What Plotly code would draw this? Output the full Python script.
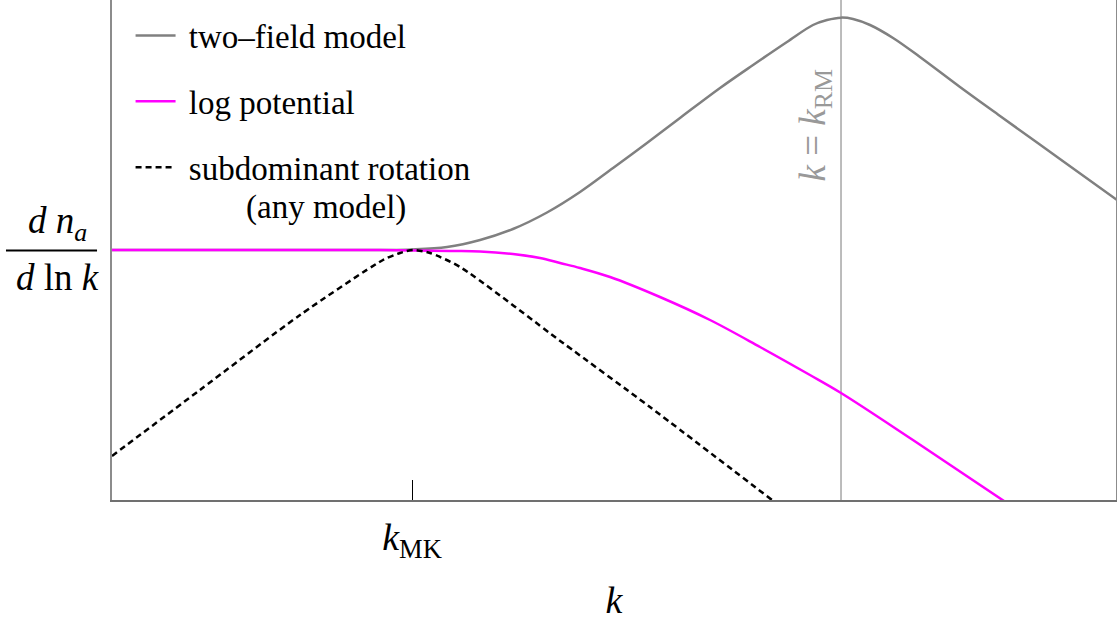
import plotly.graph_objects as go

# x: log-scale wavenumber units (k_MK at 0, k_RM at 3); y: log dn/dlnk (plateau at 0)
K_MK = 0.0
K_RM = 3.0

two_field_x = [-2.098, -0.224, 0.0, 0.245, 0.476, 0.706, 0.944, 1.175, 1.406, 1.643, 1.874,
               2.154, 2.385, 2.622, 2.804, 2.902, 3.0, 3.084, 3.203, 3.364, 3.552, 3.832,
               4.112, 4.531, 4.930]
two_field_y = [0.0, 0.0, 0.004, 0.024, 0.08, 0.168, 0.30, 0.464, 0.656, 0.856, 1.056,
               1.296, 1.48, 1.664, 1.80, 1.84, 1.859, 1.848, 1.80, 1.696, 1.544, 1.304,
               1.072, 0.728, 0.40]

log_x = [-2.098, -0.224, 0.266, 0.476, 0.706, 0.895, 1.035, 1.175, 1.385, 1.734, 2.084, 2.434,
         2.783, 3.0, 3.503, 4.140]
log_y = [0.0, 0.0, -0.008, -0.012, -0.032, -0.064, -0.104, -0.144, -0.216, -0.376, -0.56, -0.776,
         -1.0, -1.144, -1.52, -2.008]

sub_x = [-2.098, -1.483, -0.783, -0.203, -0.084, 0.007, 0.126, 0.336, 1.056, 1.664, 2.517]
sub_y = [-1.648, -1.12, -0.52, -0.08, -0.024, 0.0, -0.024, -0.136, -0.744, -1.256, -2.0]

X_RANGE = [-2.098, 4.923]
Y_RANGE = [-2.0, 2.0]

legend_names = ["two\u2013field model", "log potential", "subdominant rotation"]

SERIF = "Liberation Serif, Times New Roman, serif"

fig = go.Figure()
fig.add_trace(go.Scatter(x=two_field_x, y=two_field_y, mode="lines", name="\u00a0" + legend_names[0],
                         legendgroup="a", line=dict(color="#808080", width=2.5, shape="spline", smoothing=1.0)))
fig.add_trace(go.Scatter(x=log_x, y=log_y, mode="lines", name="\u00a0" + legend_names[1],
                         legendgroup="b", line=dict(color="#ff00ff", width=2.5, shape="spline", smoothing=1.0)))
fig.add_trace(go.Scatter(x=sub_x, y=sub_y, mode="lines", name="\u00a0" + legend_names[2],
                         legendgroup="c", line=dict(color="black", width=2.5, dash="6px,4px",
                                                    shape="spline", smoothing=0.7)))

fig.add_shape(type="line", xref="x", yref="paper", x0=K_RM, x1=K_RM, y0=0, y1=1,
              line=dict(color="#a6a6a6", width=1.5), layer="below")

fig.add_annotation(x=K_RM, xref="x", y=0.75, yref="paper", xanchor="right", yanchor="middle",
                   xshift=-1, textangle=-90, showarrow=False,
                   text="<i>k</i> = <i>k</i><sub>RM</sub>",
                   font=dict(family=SERIF, size=37, color="#999999"))

# y-axis label as a fraction
fig.add_annotation(x=-0.0538, xref="paper", y=0.552, yref="paper", showarrow=False,
                   xanchor="center", yanchor="middle",
                   text="<i>d n<sub>a</sub></i>", font=dict(family=SERIF, size=37, color="black"))
fig.add_annotation(x=-0.0538, xref="paper", y=0.445, yref="paper", showarrow=False,
                   xanchor="center", yanchor="middle",
                   text="<i>d</i> ln <i>k</i>", font=dict(family=SERIF, size=37, color="black"))
fig.add_shape(type="line", xref="paper", yref="paper", x0=-0.1056, x1=-0.0149, y0=0.499, y1=0.499,
              line=dict(color="black", width=2))

fig.add_annotation(x=0.213, xref="paper", y=0.586, yref="paper", showarrow=False,
                   xanchor="center", yanchor="middle", text="(any model)",
                   font=dict(family=SERIF, size=33, color="black"))

fig.update_layout(
    width=1117, height=621,
    margin=dict(l=112, r=1, t=0, b=121),
    paper_bgcolor="white", plot_bgcolor="white",
    showlegend=True,
    legend=dict(x=0.0185, y=0.985, xanchor="left", yanchor="top", bgcolor="rgba(0,0,0,0)",
                font=dict(family=SERIF, size=33, color="black"), tracegroupgap=20,
                traceorder="grouped", itemwidth=40),
    xaxis=dict(range=X_RANGE, showgrid=False, zeroline=False, showline=True,
               linecolor="#707070", linewidth=1.5,
               tickvals=[K_MK], ticktext=["<i>k</i><sub>MK</sub>"],
               ticks="inside", ticklen=20, tickwidth=1, tickcolor="black",
               ticklabelstandoff=3,
               tickfont=dict(family=SERIF, size=38, color="black"),
               title=dict(text="<i>k</i>", font=dict(family=SERIF, size=38, color="black"), standoff=27)),
    yaxis=dict(range=Y_RANGE, showgrid=False, zeroline=False, showline=True, mirror=True,
               linecolor="#8c8c8c", linewidth=1.5, showticklabels=False, ticks=""),
)

fig.write_html("out.html", config={"displayModeBar": False},
               post_script="document.body.style.margin='0';")
